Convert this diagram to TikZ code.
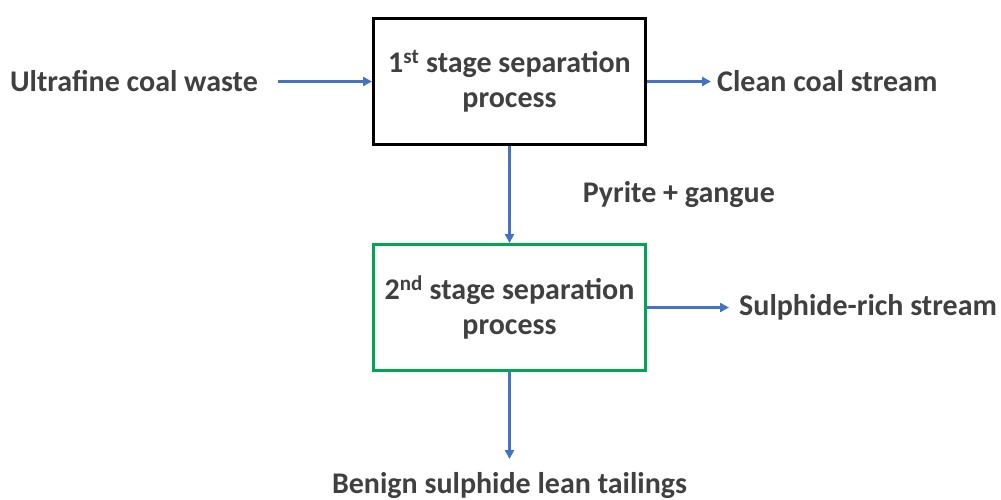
\documentclass[tikz,border=0pt]{standalone}
\usepackage{fontspec}
\setmainfont{Carlito}
\definecolor{flowblue}{HTML}{4472C4}
\definecolor{stagegreen}{HTML}{00A650}
\definecolor{textgrey}{HTML}{404040}
\usetikzlibrary{arrows.meta, positioning}
\tikzset{
	stage/.style = {draw, line width = 3pt, minimum width = 272pt, minimum height = 126pt, align = center, inner sep = 0pt},
	stream/.style = {inner sep = 0pt},
	flow/.style = {draw = flowblue, line width = 2.5pt, -{Triangle[length = 9pt, width = 9pt]}}
}
\begin{document}
\begin{tikzpicture}[x = 1pt, y = -1pt, font = \fontsize{30}{35}\selectfont\bfseries, text = textgrey]
		\useasboundingbox (0,0) rectangle (1001,499);
		\node[stage] (s1) at (509.5,81.5) {1\textsuperscript{st} stage separation\\process};
		\node[stage, draw = stagegreen, below = 97pt of s1] (s2) {2\textsuperscript{nd} stage separation\\process};
		\node[stream, left = 114pt of s1] (feed) {Ultrafine coal waste};
		\node[stream, right = 70pt of s1] (clean) {Clean coal stream};
		\node[stream, right = 92pt of s2] (rich) {Sulphide-rich stream};
		\node[stream, below = 100pt of s2] (lean) {Benign sulphide lean tailings};
		\draw[flow, shorten < = 20pt] (feed) -- (s1);
		\draw[flow, shorten > = 6pt] (s1) -- (clean);
		\draw[flow] (s1) -- node[stream, right = 72pt] (pyrite) {Pyrite + gangue} (s2);
		\draw[flow, shorten > = 10pt] (s2) -- (rich);
		\draw[flow, shorten > = 13pt] (s2) -- (lean);
	\end{tikzpicture}
\end{document}
